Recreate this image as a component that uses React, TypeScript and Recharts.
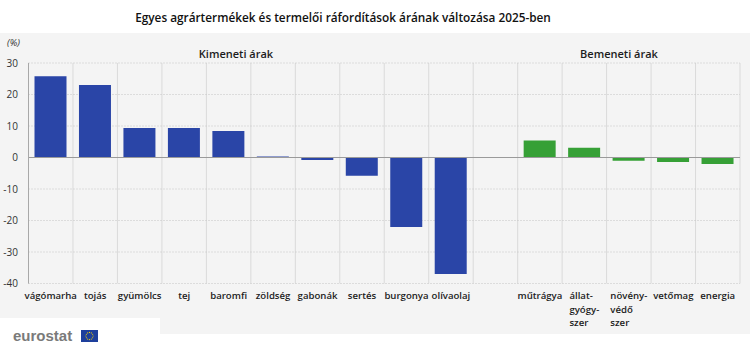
import { BarChart, Bar, Cell, XAxis, YAxis, CartesianGrid, ReferenceLine } from "recharts";

const outputLabels = ["vágómarha", "tojás", "gyümölcs", "tej", "baromfi", "zöldség", "gabonák", "sertés", "burgonya", "olívaolaj"];
const outputValues = [25.8, 23.0, 9.4, 9.4, 8.4, 0.3, -0.8, -5.8, -22.1, -37.0];
const inputLabels = ["műtrágya", "állat-\ngyógy-\nszer", "növény-\nvédő\nszer", "vetőmag", "energia"];
const inputValues = [5.4, 3.1, -1.0, -1.4, -2.1];
const yTicks = [-40, -30, -20, -10, 0, 10, 20, 30];

const BLUE = "#2a45a7";
const GREEN = "#36a036";
const FONT = "'Open Sans', 'Noto Sans', sans-serif";

const data = [
  ...outputLabels.map((label, i) => ({ label, value: outputValues[i], group: "out" })),
  { label: "", value: null, group: "gap" },
  ...inputLabels.map((label, i) => ({ label, value: inputValues[i], group: "in" })),
];

let ctx: CanvasRenderingContext2D | null = null;
function measure(s: string) {
  if (!ctx) ctx = document.createElement("canvas").getContext("2d");
  if (!ctx) return s.length * 5.4;
  ctx.font = `600 9.6px ${FONT}`;
  return ctx.measureText(s).width;
}

function CategoryTick(props: any) {
  const { x, y, payload } = props;
  const lines: string[] = String(payload.value).split("\n");
  if (lines.length === 1) {
    return (
      <text x={x} y={y + 15.5} textAnchor="middle" fontSize={9.6} fontWeight={600} fill="#1c1c1c" fontFamily={FONT}>
        {lines[0]}
      </text>
    );
  }
  const w = Math.max(...lines.map(measure));
  return (
    <text x={x - w / 2} y={y + 15.5} textAnchor="start" fontSize={9.6} fontWeight={600} fill="#1c1c1c" fontFamily={FONT}>
      {lines.map((l, i) => (
        <tspan key={i} x={x - w / 2} dy={i === 0 ? 0 : 13.5}>{l}</tspan>
      ))}
    </text>
  );
}

export default function App() {
  const n = data.length;
  return (
    <div style={{ position: "absolute", left: 0, top: 0, width: 750, height: 351, background: "#fff", fontFamily: FONT }}>
      <div style={{ position: "absolute", left: 0, top: 33, width: 750, height: 301, background: "#f4f4f4" }} />
      <svg width={750} height={351} style={{ position: "absolute", left: 0, top: 0 }}>
        <text x={343} y={22} textAnchor="middle" fontSize={11.8} fill="#111" fontFamily={FONT} fontWeight={600}>
          Egyes agrártermékek és termelői ráfordítások árának változása 2025-ben
        </text>
        <text x={7} y={46} fontSize={9.5} fontStyle="italic" fill="#333" fontFamily={FONT}>(%)</text>
        <text x={236} y={58} textAnchor="middle" fontSize={11} fontWeight={600} fill="#1c1c1c" fontFamily={FONT}>Kimeneti árak</text>
        <text x={619} y={58} textAnchor="middle" fontSize={11} fontWeight={600} fill="#1c1c1c" fontFamily={FONT}>Bemeneti árak</text>
        <rect x={0} y={318} width={160} height={33} fill="#fff" />
        <text x={13} y={341} fontSize={15} fontWeight={700} fill="#7a7a7a" fontFamily="'Liberation Sans', Arial, sans-serif">eurostat</text>
        <rect x={81} y={330} width={17} height={12} fill="#1d3f9c" />
        {Array.from({ length: 12 }).map((_, i) => {
          const a = (i / 12) * Math.PI * 2;
          return <circle key={i} cx={89.5 + Math.cos(a) * 3.6} cy={336 + Math.sin(a) * 3.6} r={0.55} fill="#f5d300" />;
        })}
      </svg>
      <div style={{ position: "absolute", left: 0, top: 0 }}>
        <BarChart width={750} height={351} data={data} margin={{ top: 63, right: 10, bottom: 37.5, left: 0 }}>
          <CartesianGrid
            horizontal={false}
            stroke="#dadada"
            verticalCoordinatesGenerator={({ offset }: any) =>
              Array.from({ length: n + 1 }, (_, i) => offset.left + (i * offset.width) / n)
            }
          />
          <CartesianGrid vertical={false} stroke="#c4c4c4" strokeDasharray="1 2" />
          <XAxis
            dataKey="label"
            height={30}
            interval={0}
            tickLine={false}
            axisLine={false}
            tickSize={0}
            tickMargin={0}
            tick={<CategoryTick />}
          />
          <YAxis
            width={28.5}
            domain={[-40, 30]}
            ticks={yTicks}
            tickLine={false}
            tickSize={0}
            tickMargin={10.5}
            axisLine={{ stroke: "#a8a8a8" }}
            tick={{ fontSize: 10, fill: "#333", fontFamily: FONT }}
          />
          <ReferenceLine y={0} stroke="#9a9a9a" />
          <Bar dataKey="value" barSize={32} isAnimationActive={false}>
            {data.map((d, i) => (
              <Cell key={i} fill={d.group === "in" ? GREEN : BLUE} />
            ))}
          </Bar>
        </BarChart>
      </div>
    </div>
  );
}
